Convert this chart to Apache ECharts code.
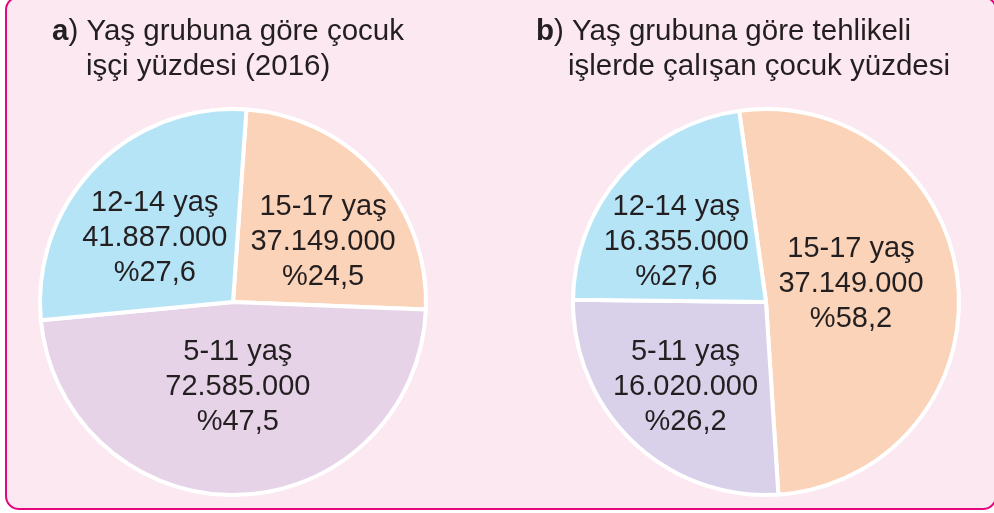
<!DOCTYPE html>
<html>
<head>
<meta charset="utf-8">
<script src="https://cdn.jsdelivr.net/npm/echarts@6/dist/echarts.min.js"></script>
<style>
  html, body { margin: 0; padding: 0; background: #fff; }
  #frame {
    position: absolute; left: 5px; top: -4px; width: 988px; height: 510px;
    border: 2px solid #E4087F; border-radius: 14px; background: #FCE8F1; overflow: hidden;
  }
  #chart { position: absolute; left: -7px; top: 2px; width: 994px; height: 513px; }
</style>
</head>
<body>
<div id="frame"><div id="chart"></div></div>
<script>
// yaş grupları (saat yönünde, en üstten başlayarak)
const groups = ['15-17 yaş', '5-11 yaş', '12-14 yaş'];
const colorsA = ['#FBD3B9', '#E7D3E8', '#B5E4F7'];
const colorsB = ['#FBD3B9', '#D9D1E9', '#B5E4F7'];

// a) çocuk işçi sayıları
const workersA = [37149000, 72585000, 41887000];
const percentA = ['%24,5', '%47,5', '%27,6'];

// b) tehlikeli işlerde çalışan çocuklar: dilim payları
const sharesB = [51.2, 26.2, 22.6];
const countsB = ['37.149.000', '16.020.000', '16.355.000'];
const percentB = ['%58,2', '%26,2', '%27,6'];

// etiketlerin dilim içindeki kaydırması
const labelShift = [
  [[16, 6], [2, -14], [-7, 5]],
  [[-14, -8], [-12, 13], [-15, 6]]
];

function dotted(n) {
  return String(n).replace(/\B(?=(\d{3})+(?!\d))/g, '.');
}

const font = '"Liberation Sans", Arial, Helvetica, sans-serif';
const ink = '#231F20';

const chart = echarts.init(document.getElementById('chart'));

function pieSeries(idx, center, startAngle, values, colors, labelFn) {
  return {
    type: 'pie',
    center: center,
    radius: 193,
    startAngle: startAngle,
    clockwise: true,
    animation: false,
    silent: true,
    data: values.map((v, i) => ({
      name: groups[i], value: v,
      itemStyle: { color: colors[i] }
    })),
    itemStyle: { borderColor: '#fff', borderWidth: 4 },
    label: {
      show: true,
      position: 'inside',
      formatter: labelFn,
      color: ink,
      fontFamily: font,
      fontSize: 29,
      lineHeight: 35,
      align: 'center'
    },
    labelLayout: function (params) {
      const s = labelShift[idx][params.dataIndex];
      return { dx: s[0], dy: s[1] };
    },
    labelLine: { show: false },
    emphasis: { disabled: true }
  };
}

const titleStyle = {
  color: ink, fontFamily: font, fontSize: 29.5, fontWeight: 'normal', lineHeight: 35,
  rich: { b: { fontFamily: font, fontSize: 29.5, fontWeight: 'bold', color: ink, lineHeight: 35 } }
};

const option = {
  backgroundColor: 'transparent',
  title: [
    { text: '{b|a}) Yaş grubuna göre çocuk', left: 52, top: 14 },
    { text: 'işçi yüzdesi (2016)', left: 86, top: 49 },
    { text: '{b|b}) Yaş grubuna göre tehlikeli', left: 536, top: 14 },
    { text: 'işlerde çalışan çocuk yüzdesi', left: 568, top: 49 }
  ].map(t => Object.assign(t, { padding: 0, textStyle: titleStyle })),
  series: [
    pieSeries(0, [233, 302], 86, workersA, colorsA,
      p => groups[p.dataIndex] + '\n' + dotted(workersA[p.dataIndex]) + '\n' + percentA[p.dataIndex]),
    pieSeries(1, [766, 302], 98, sharesB, colorsB,
      p => groups[p.dataIndex] + '\n' + countsB[p.dataIndex] + '\n' + percentB[p.dataIndex])
  ]
};

chart.setOption(option);
</script>
</body>
</html>
